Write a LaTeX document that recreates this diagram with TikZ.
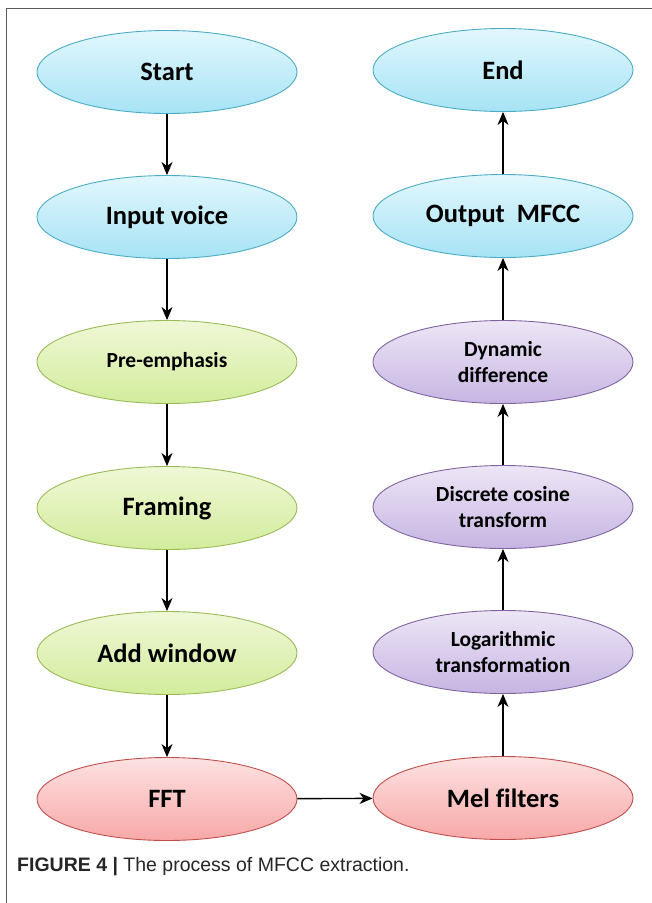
\documentclass[tikz,border=0pt]{standalone}
\usepackage{fontspec}
\setmainfont{Carlito}[Ligatures=NoCommon]
\newfontfamily\capfont{Liberation Sans}
\usetikzlibrary{shapes.geometric,arrows.meta}
\definecolor{blueE}{HTML}{4BACC6}\definecolor{blueT}{HTML}{E2F7FD}\definecolor{blueB}{HTML}{A6E3F5}
\definecolor{greenE}{HTML}{9BBB59}\definecolor{greenT}{HTML}{F0F8D6}\definecolor{greenB}{HTML}{D2EC9C}
\definecolor{violetE}{HTML}{8064A2}\definecolor{violetT}{HTML}{EDE6F6}\definecolor{violetB}{HTML}{C6B5E2}
\definecolor{redE}{HTML}{C0504D}\definecolor{redT}{HTML}{FDE2E2}\definecolor{redB}{HTML}{F8A8A8}
\tikzset{
  stage/.style={ellipse, minimum width=260pt, minimum height=83pt, inner sep=0pt,
    line width=0.9pt, align=center, font=\bfseries\fontsize{26.5}{30}\selectfont},
  small/.style={font=\bfseries\fontsize{21.5}{26}\selectfont},
  bluestage/.style={stage, draw=blueE, top color=blueT, bottom color=blueB},
  greenstage/.style={stage, draw=greenE, top color=greenT, bottom color=greenB},
  violetstage/.style={stage, draw=violetE, top color=violetT, bottom color=violetB},
  redstage/.style={stage, draw=redE, top color=redT, bottom color=redB},
  flow/.style={-{Stealth[length=13pt,width=11pt,inset=4pt]}, line width=1.4pt, black}
}
\begin{document}
\begin{tikzpicture}[x=1pt,y=-1pt]
\useasboundingbox (0,0) rectangle (652,903);
% frame
\draw[line width=1.3pt, black!65] (6.5,903) -- (6.5,8.5) -- (652,8.5);
% left column
\node[bluestage] (start) at (167,72) {Start};
\node[bluestage] (input) at (167,217) {Input voice};
\node[greenstage, small] (pre) at (167,362) {Pre-emphasis};
\node[greenstage] (frame) at (167,508) {Framing};
\node[greenstage] (win) at (167,653) {Add window};
\node[redstage] (fft) at (167,799) {FFT};
% right column
\node[redstage] (mel) at (503,798) {Mel filters};
\node[violetstage, small] (log) at (503,652) {Logarithmic\\transformation};
\node[violetstage, small] (dct) at (503,507) {Discrete cosine\\transform};
\node[violetstage, small] (dyn) at (503,362) {Dynamic\\difference};
\node[bluestage] (out) at (503,216) {Output~~MFCC};
\node[bluestage] (end) at (503,70) {End};
% connectors
\draw[flow] (start) -- (input);
\draw[flow] (input) -- (pre);
\draw[flow] (pre) -- (frame);
\draw[flow] (frame) -- (win);
\draw[flow] (win) -- (fft);
\draw[flow] (fft) -- (mel);
\draw[flow] (mel) -- (log);
\draw[flow] (log) -- (dct);
\draw[flow] (dct) -- (dyn);
\draw[flow] (dyn) -- (out);
\draw[flow] (out) -- (end);
% caption
\node[anchor=west, inner sep=0pt, font=\capfont\fontsize{19.5}{23}\selectfont, text=black!85] (cap) at (17,867)
  {\textbf{FIGURE 4 |} The process of MFCC extraction.};
\end{tikzpicture}
\end{document}
